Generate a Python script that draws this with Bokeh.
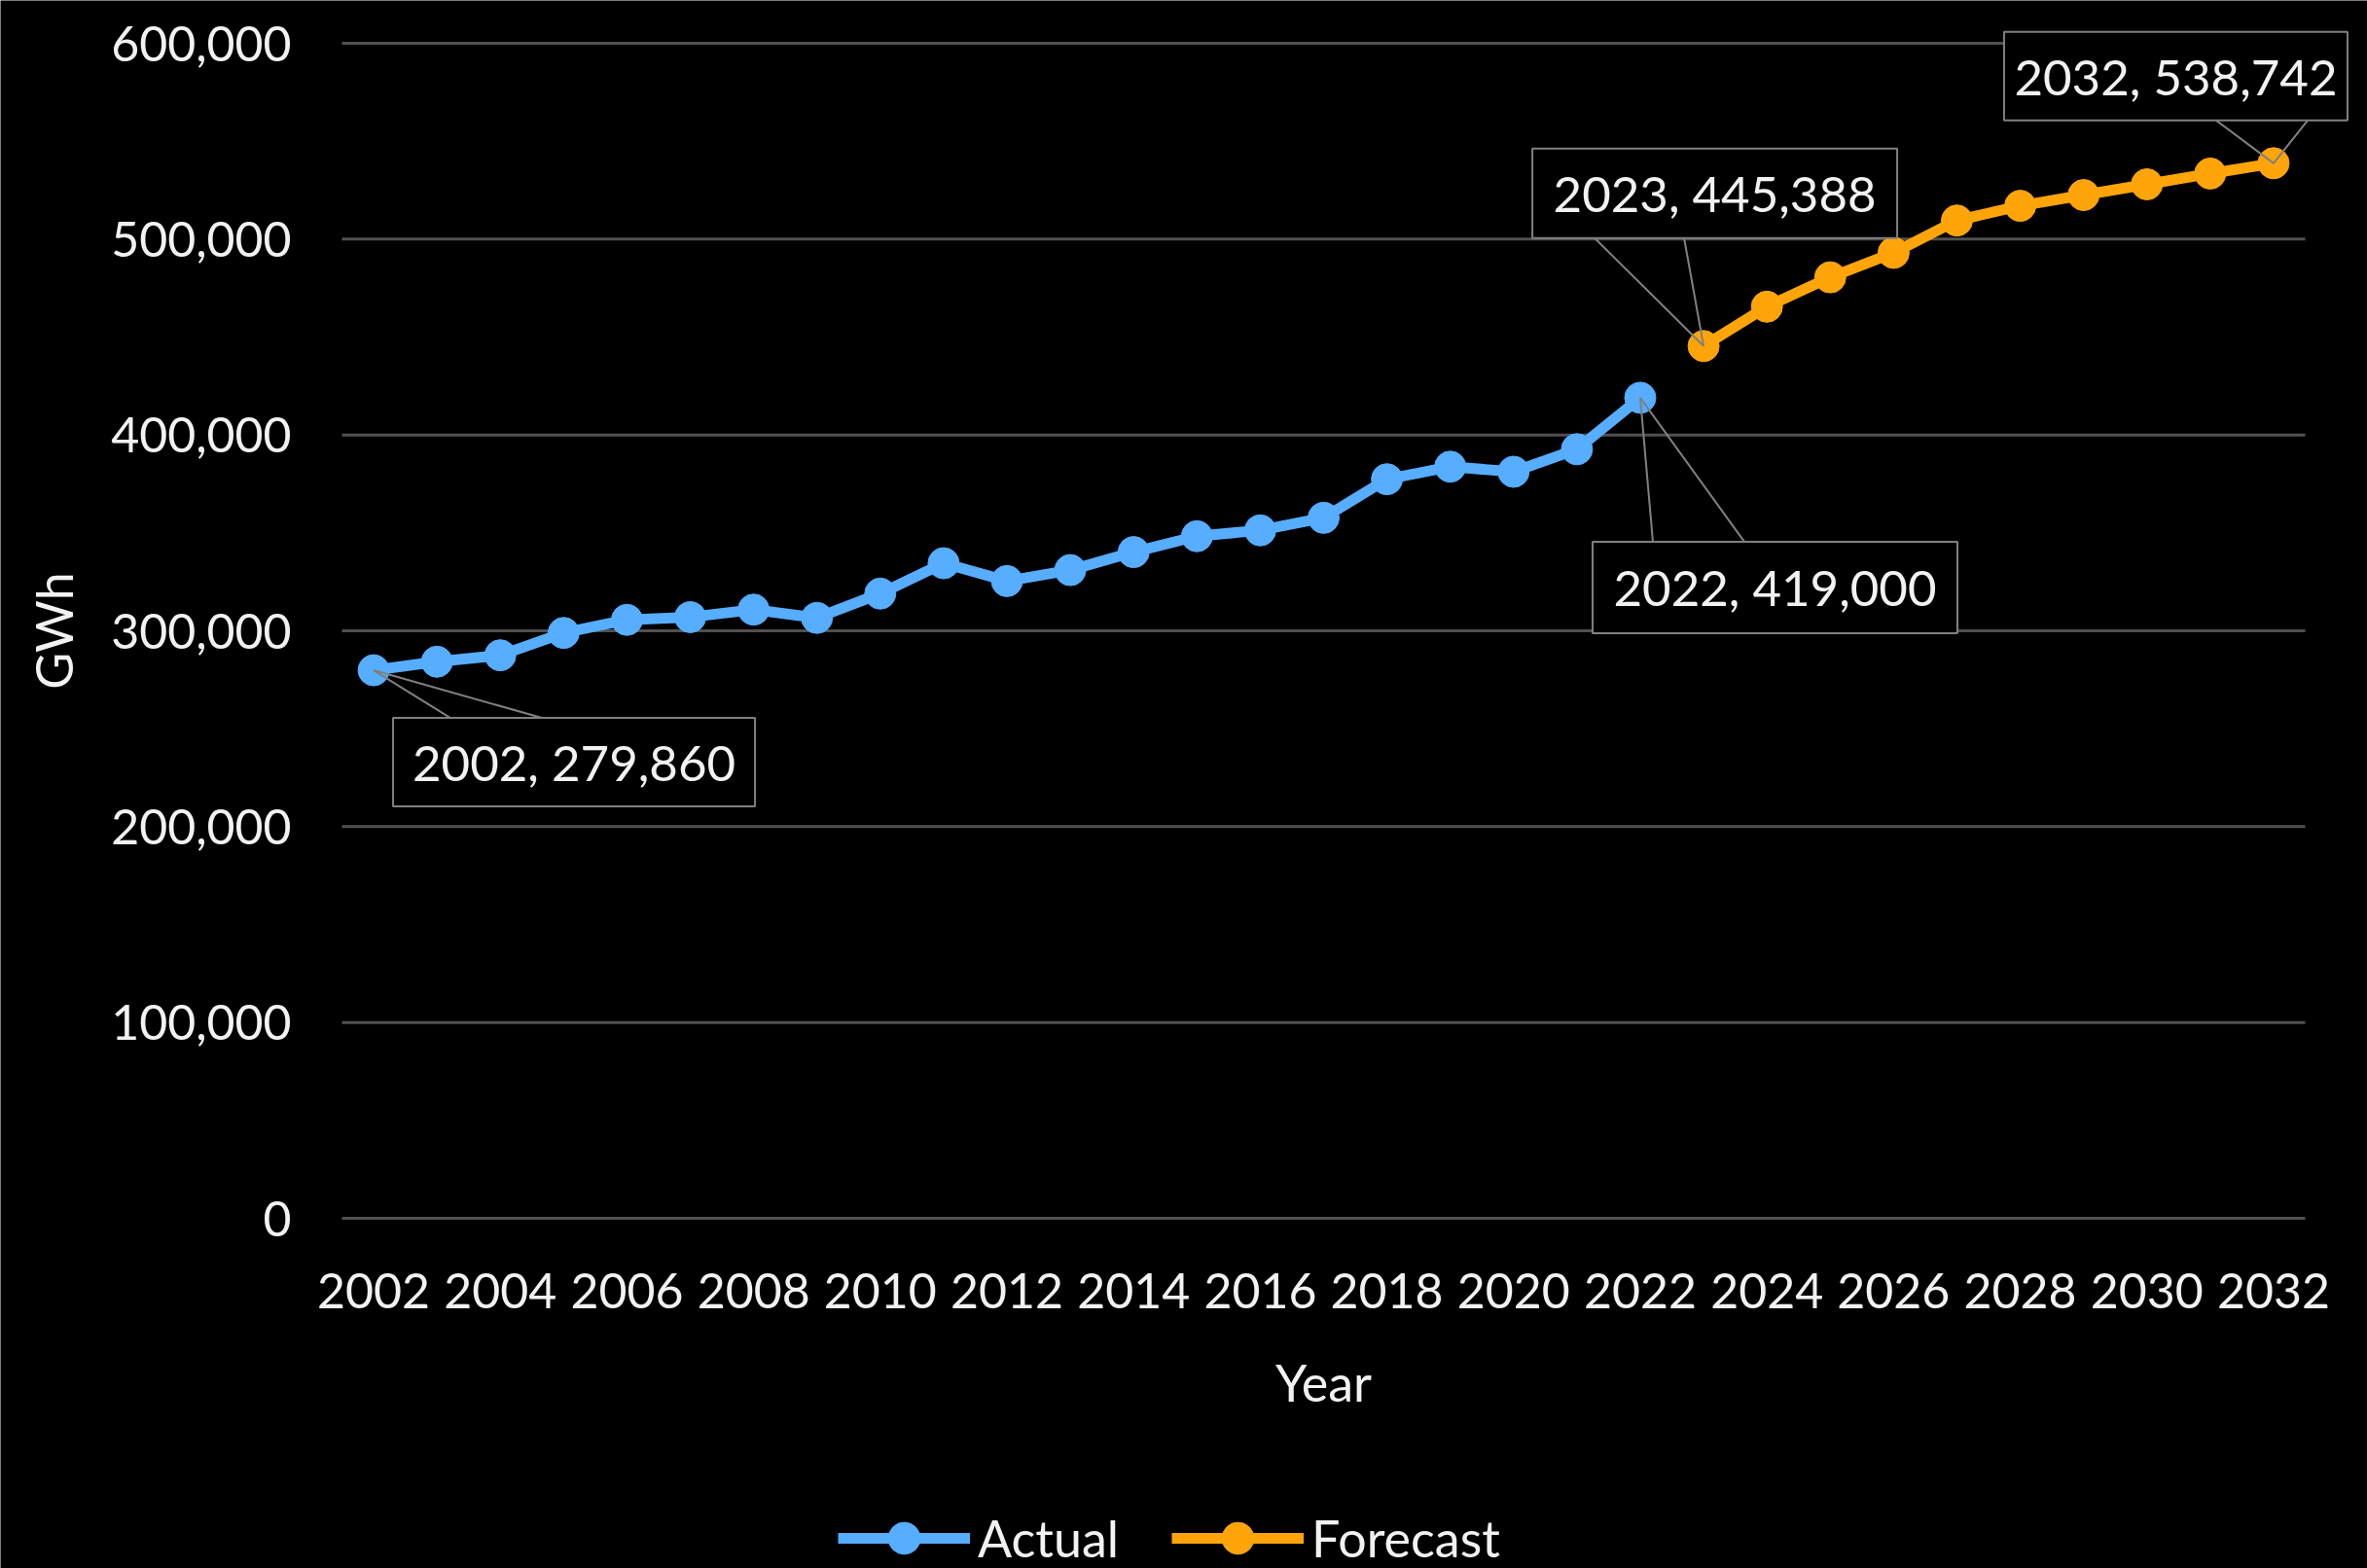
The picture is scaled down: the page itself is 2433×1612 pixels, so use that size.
import math
from bokeh.plotting import figure
from bokeh.models import Legend, LegendItem, FixedTicker, NumeralTickFormatter, Range1d
from bokeh.embed import file_html
from bokeh.resources import INLINE
from bokeh.core.properties import value

# ---------------- data ----------------
years_actual = list(range(2002, 2023))
actual_gwh = [279860, 284200, 287500, 298900, 305600, 307000, 310800, 306600,
              319000, 334500, 325400, 331000, 340200, 348300, 351300, 357700,
              377400, 383800, 381200, 392700, 419000]
years_forecast = list(range(2023, 2033))
forecast_gwh = [445388, 465500, 480500, 493000, 509500, 517000, 522500,
                528000, 533500, 538742]
x_tick_years = list(range(2002, 2033, 2))
y_tick_values = [0, 100000, 200000, 300000, 400000, 500000, 600000]
callout_labels = ["2002, 279,860", "2022, 419,000", "2023, 445,388", "2032, 538,742"]
callout_years = [2002, 2022, 2023, 2032]
callout_values = [279860, 419000, 445388, 538742]
x_title = "Year"
y_title = "GWh"

# ---------------- styling / layout ----------------
FONT = "Lato"
TXT = "#F2F2F2"
BLUE = "#57ADFF"
ORANGE = "#FFA50A"
GRID = "#505050"
CALLOUT = "#808080"
W, H = 2433, 1612
LEFT = 351                       # left edge of plotting area (px)
PLOT_W, PLOT_H = 2018, 1208      # plotting area (grid extent, px)
PLOT_TOP = 44
X0, X1 = 2001.5, 2032.5
PX_X = PLOT_W / (X1 - X0)        # px per year
PX_Y = PLOT_H / 600000           # px per GWh
X_START = X0 - LEFT / PX_X
X_END = X0 + (W - LEFT) / PX_X
Y_END = 600000 + PLOT_TOP / PX_Y
Y_START = -(H - PLOT_TOP - PLOT_H) / PX_Y

p = figure(frame_width=W, frame_height=H, min_border=0,
           x_range=Range1d(X_START, X_END), y_range=Range1d(Y_START, Y_END),
           x_axis_location=None, y_axis_location=None,
           output_backend="svg", toolbar_location=None, tools="")
p.background_fill_color = "black"
p.border_fill_color = "black"
p.outline_line_color = None
p.grid.visible = False

from bokeh.models import LinearAxis
xaxis = LinearAxis(fixed_location=0, ticker=FixedTicker(ticks=x_tick_years),
                   bounds=(X0, X1))
yaxis = LinearAxis(fixed_location=X0, ticker=FixedTicker(ticks=y_tick_values),
                   formatter=NumeralTickFormatter(format="0,0"), bounds=(0, 600000))
for ax in (xaxis, yaxis):
    ax.axis_line_color = None
    ax.major_tick_line_color = None
    ax.minor_tick_line_color = None
    ax.major_label_text_color = TXT
    ax.major_label_text_font = FONT
    ax.major_label_text_font_size = "50px"
xaxis.major_label_standoff = 50
yaxis.major_label_standoff = 46
p.add_layout(xaxis, "below")
p.add_layout(yaxis, "left")

# axis titles
p.text(x=[(X0 + X1) / 2], y=[-(1420 - PLOT_TOP - PLOT_H) / PX_Y], text=[x_title],
       text_align="center", text_baseline="middle", text_color=TXT,
       text_font=value(FONT), text_font_size="52px")
p.text(x=[X0 - (LEFT - 54) / PX_X], y=[300000], text=[y_title], angle=math.pi / 2,
       text_align="center", text_baseline="middle", text_color=TXT,
       text_font=value(FONT), text_font_size="52px")

# horizontal gridlines over the plotting area only
p.segment(x0=X0, x1=X1, y0=y_tick_values, y1=y_tick_values,
          line_color=GRID, line_width=3)

# series
la = p.line(years_actual, actual_gwh, line_color=BLUE, line_width=11)
ca = p.scatter(years_actual, actual_gwh, size=32, fill_color=BLUE, line_color=BLUE)
lf = p.line(years_forecast, forecast_gwh, line_color=ORANGE, line_width=11)
cf = p.scatter(years_forecast, forecast_gwh, size=32, fill_color=ORANGE, line_color=ORANGE)

# callouts: (dx_left, dy_top (down +), width, height, wedge_a, wedge_b, wedge on top?) in px
callout_geom = [
    (20, 49, 372, 91, 79, 173, True),
    (-49, 148, 375, 94, 13, 107, True),
    (-176, -203, 375, 92, -112, -20, False),
    (-277, -135, 353, 91, -59, 35, False),
]
for lab, yr, val, g in zip(callout_labels, callout_years, callout_values, callout_geom):
    dx, dy, w, h, wa, wb, top = g
    left = yr + dx / PX_X
    right = yr + (dx + w) / PX_X
    topv = val - dy / PX_Y
    botv = val - (dy + h) / PX_Y
    edge = topv if top else botv
    p.line([yr + wa / PX_X, yr, yr + wb / PX_X], [edge, val, edge],
           line_color=CALLOUT, line_width=2)
    p.quad(left=[left], right=[right], top=[topv], bottom=[botv],
           fill_color="black", line_color=CALLOUT, line_width=2)
    p.text(x=[(left + right) / 2], y=[(topv + botv) / 2], text=[lab],
           text_align="center", text_baseline="middle",
           text_color=TXT, text_font=value(FONT), text_font_size="51px")

legend = Legend(items=[LegendItem(label="Actual", renderers=[la, ca]),
                       LegendItem(label="Forecast", renderers=[lf, cf])],
                orientation="horizontal", location=(861, -10),
                glyph_width=136, glyph_height=82, label_height=52,
                label_standoff=8, spacing=54, padding=0, margin=0,
                background_fill_alpha=0, border_line_alpha=0,
                label_text_color=TXT, label_text_font=FONT,
                label_text_font_size="52px")
p.add_layout(legend, "center")

open("out.html", "w").write(file_html(p, INLINE))
